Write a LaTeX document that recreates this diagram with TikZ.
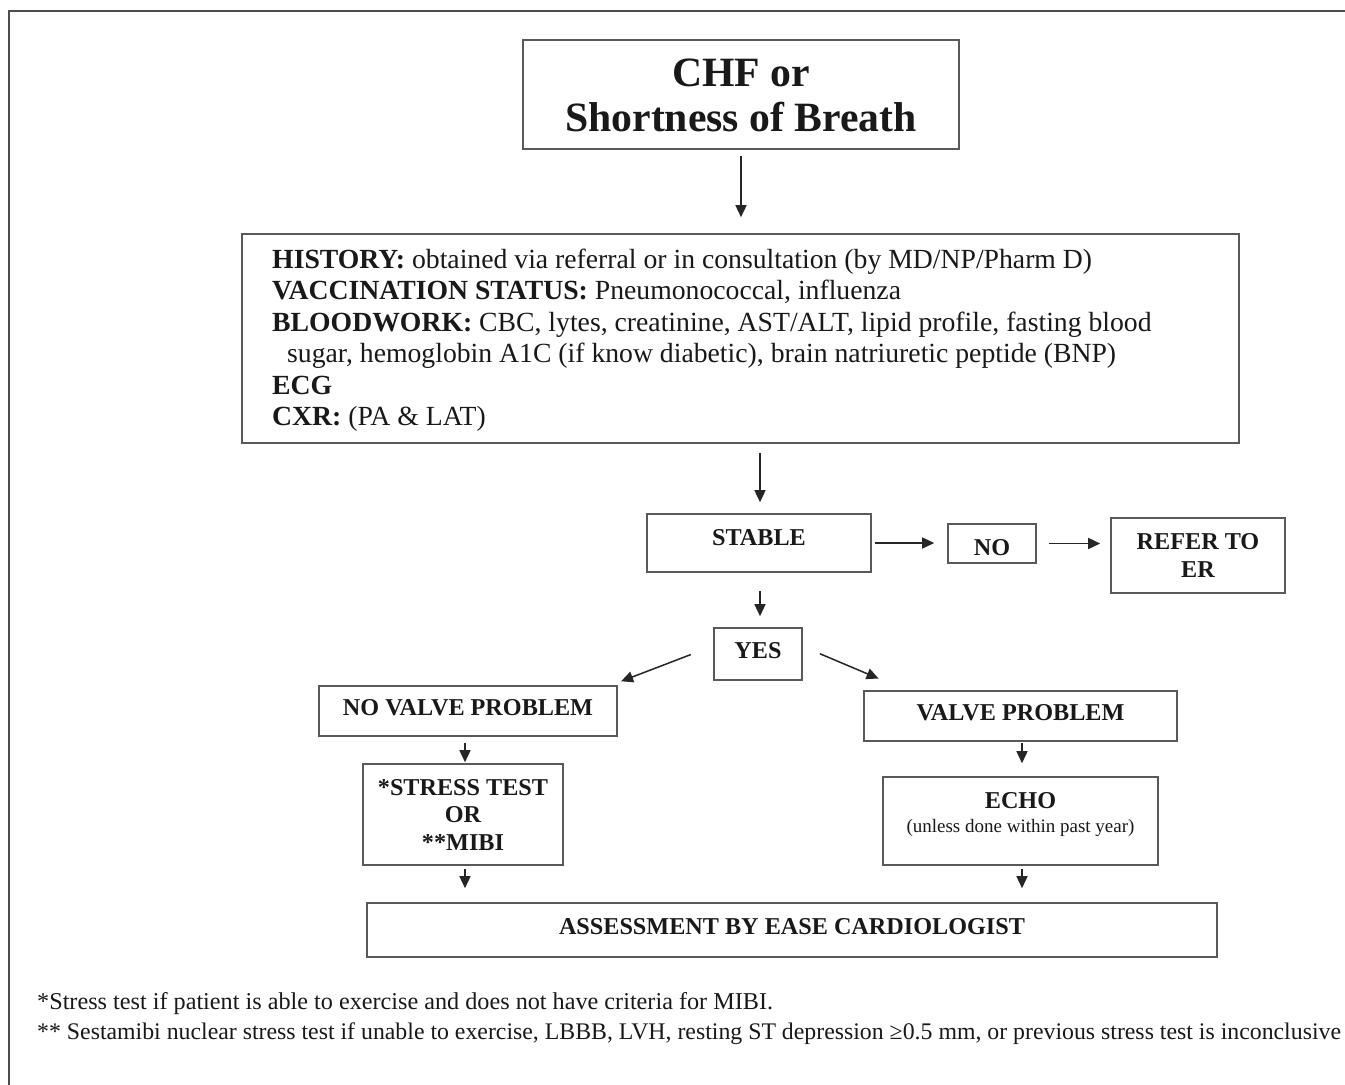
\documentclass[tikz,border=0pt]{standalone}
\usepackage{fontspec}
\setmainfont{Liberation Serif}
\usetikzlibrary{arrows.meta}
\begin{document}
\begin{tikzpicture}[x=1pt,y=-1pt,
  box/.style={draw=black!65, line width=1.6pt, inner sep=0pt},
  lbl/.style={anchor=base, inner sep=0pt, text=black!90,
    font=\fontsize{24.2}{27}\selectfont\bfseries},
  big/.style={anchor=base, inner sep=0pt, text=black!90,
    font=\fontsize{41.7}{45}\selectfont\bfseries},
  hline/.style={anchor=base west, inner sep=0pt, text=black!90,
    font=\fontsize{27.7}{31.5}\selectfont},
  note/.style={anchor=base west, inner sep=0pt, text=black!90,
    font=\fontsize{24.2}{30}\selectfont},
  arr/.style={draw=black!85, line width=1.5pt,
    -{Triangle[length=12pt,width=11pt]}}]
\useasboundingbox (0,0) rectangle (1345,1085);
\fill[white] (0,0) rectangle (1345,1085);
% outer frame (top and left edges)
\draw[black!70, line width=2pt] (9,1085) -- (9,10.5) -- (1345,10.5);

% boxes
\node[box, minimum width=436pt, minimum height=109pt] (chf) at (741,94.5) {};
\node[box, minimum width=997pt, minimum height=209pt] (hist) at (740.5,338.5) {};
\node[box, minimum width=224pt, minimum height=58pt] (stable) at (759,543) {};
\node[box, minimum width=88pt, minimum height=39pt] (no) at (992,543.5) {};
\node[box, minimum width=174pt, minimum height=75pt] (refer) at (1198,555.5) {};
\node[box, minimum width=88pt, minimum height=52pt] (yes) at (758,654) {};
\node[box, minimum width=298pt, minimum height=50pt] (novalve) at (468,711) {};
\node[box, minimum width=313pt, minimum height=50pt] (valve) at (1020.5,716) {};
\node[box, minimum width=200pt, minimum height=101pt] (stress) at (463,814.5) {};
\node[box, minimum width=275pt, minimum height=88pt] (echo) at (1020.5,821) {};
\node[box, minimum width=850pt, minimum height=54pt] (assess) at (792,930) {};

% box texts
\node[big] (chf1) at (741,86.5) {CHF or};
\node[big] (chf2) at (741,131.5) {Shortness of Breath};

\node[hline] (h1) at (272,268) {\textbf{HISTORY:} obtained via referral or in consultation (by MD/NP/Pharm D)};
\node[hline] (h2) at (272,299.5) {\textbf{VACCINATION STATUS:} Pneumonococcal, influenza};
\node[hline] (h3) at (272,331) {\textbf{BLOODWORK:} CBC, lytes, creatinine, AST/ALT, lipid profile, fasting blood};
\node[hline] (h4) at (287,362.5) {sugar, hemoglobin A1C (if know diabetic), brain natriuretic peptide (BNP)};
\node[hline] (h5) at (272,394) {\textbf{ECG}};
\node[hline] (h6) at (272,425.5) {\textbf{CXR:} (PA \& LAT)};

\node[lbl] (stablet) at (759,545.5) {STABLE};
\node[lbl] (not) at (992,555) {NO};
\node[lbl] (refer1) at (1198,549.5) {REFER TO};
\node[lbl] (refer2) at (1198,577) {ER};
\node[lbl] (yest) at (758,658) {YES};
\node[lbl] (novalvet) at (468,715) {NO VALVE PROBLEM};
\node[lbl] (valvet) at (1020.5,720) {VALVE PROBLEM};
\node[lbl] (stress1) at (463,795) {*STRESS TEST};
\node[lbl] (stress2) at (463,822.5) {OR};
\node[lbl] (stress3) at (463,850) {**MIBI};
\node[lbl] (echot) at (1020.5,808.5) {ECHO};
\node[anchor=base, inner sep=0pt, text=black!90, font=\fontsize{19}{22}\selectfont]
  (echosub) at (1020.5,832.5) {(unless done within past year)};
\node[lbl] (assesst) at (792,934.5) {ASSESSMENT BY EASE CARDIOLOGIST};

% connectors
\draw[arr, shorten <=6pt, shorten >=16pt] (chf.south) -- (chf.south |- hist.north);
\draw[arr, shorten <=9pt, shorten >=11pt] ([xshift=1pt]stable.north |- hist.south) -- ([xshift=1pt]stable.north);
\draw[arr, shorten <=3pt, shorten >=13pt] (stable.east) -- (stable.east -| no.west);
\draw[arr, shorten <=12pt, shorten >=10pt] (no.east) -- (no.east -| refer.west);
\draw[arr, shorten <=18pt, shorten >=11pt] ([xshift=1pt]stable.south) -- ([xshift=1pt]stable.south |- yes.north);
\draw[arr, shorten <=24pt, shorten >=11pt] ([yshift=8pt]yes.west) -- ([xshift=-7pt]novalve.north east);
\draw[arr, shorten <=18.5pt, shorten >=30pt] ([yshift=7.5pt]yes.east) -- ([xshift=43pt]valve.north west);
\draw[arr, shorten <=6pt, shorten >=1pt] ([xshift=2pt]stress.north |- novalve.south) -- ([xshift=2pt]stress.north);
\draw[arr, shorten <=1pt, shorten >=13pt] ([xshift=1.5pt]valve.south) -- ([xshift=1.5pt]valve.south |- echo.north);
\draw[arr, shorten <=3pt, shorten >=14pt] ([xshift=2pt]stress.south) -- ([xshift=2pt]stress.south |- assess.north);
\draw[arr, shorten <=3pt, shorten >=14pt] ([xshift=1.5pt]echo.south) -- ([xshift=1.5pt]echo.south |- assess.north);

% footnotes
\node[note] (fn1) at (37,1009) {*Stress test if patient is able to exercise and does not have criteria for MIBI.};
\node[note, font=\fontsize{23.8}{30}\selectfont] (fn2) at (37,1039) {** Sestamibi nuclear stress test if unable to exercise, LBBB, LVH, resting ST depression ≥0.5 mm, or previous stress test is inconclusive};
\end{tikzpicture}
\end{document}
